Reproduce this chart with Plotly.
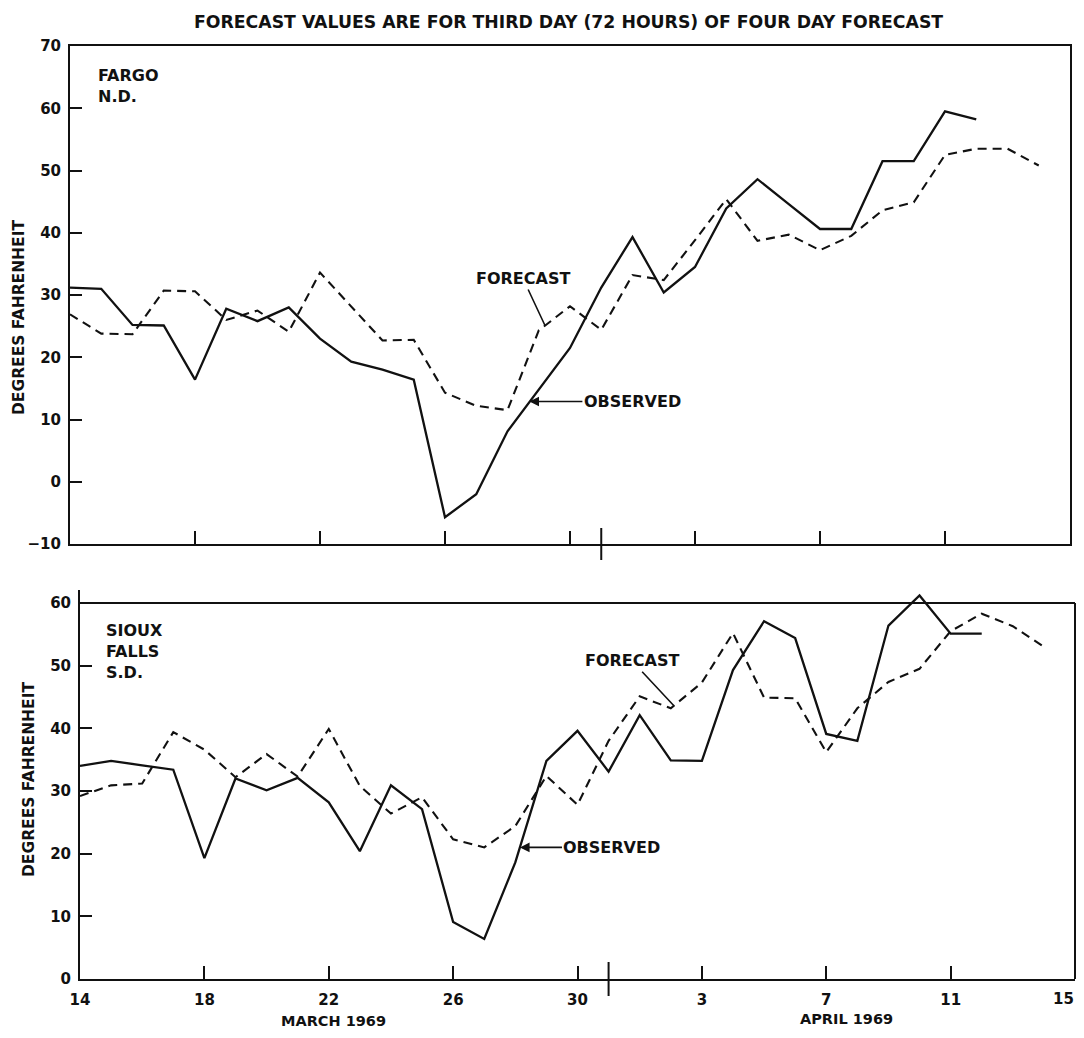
import plotly.graph_objects as go
import pandas as pd

# ---------------- data ----------------
dates = pd.date_range("1969-03-14", "1969-04-15", freq="D")
day_index = list(range(len(dates)))          # 0 = March 14 ... 32 = April 15

tick_idx = [0, 4, 8, 12, 16, 20, 24, 28, 32]
tick_labels = ["14", "18", "22", "26", "30", "3", "7", "11", "15"]
month_break_idx = 17                          # divider between March and April

fargo_observed = [31.2, 31.0, 25.2, 25.1, 16.4, 27.8, 25.8, 28.0, 23.0, 19.3,
                  18.0, 16.4, -5.7, -2.0, 8.1, 14.9, 21.5, 31.2, 39.3, 30.4,
                  34.5, 43.9, 48.6, 44.6, 40.6, 40.6, 51.5, 51.5, 59.5, 58.2,
                  None, None, None]
fargo_forecast = [26.9, 23.8, 23.7, 30.7, 30.6, 26.0, 27.5, 24.1, 33.6, 28.2,
                  22.7, 22.8, 14.3, 12.2, 11.5, 24.3, 28.2, 24.4, 33.2, 32.4,
                  38.8, 45.4, 38.7, 39.7, 37.2, 39.5, 43.6, 44.9, 52.5, 53.5,
                  53.5, 50.8, None]

sioux_observed = [34.0, 34.8, 34.1, 33.4, 19.3, 32.0, 30.1, 32.1, 28.2, 20.4,
                  30.9, 27.1, 9.1, 6.4, 18.6, 34.8, 39.6, 33.1, 42.1, 34.9,
                  34.8, 49.3, 57.1, 54.4, 39.1, 38.0, 56.4, 61.2, 55.1, 55.1,
                  None, None, None]
sioux_forecast = [29.2, 30.9, 31.2, 39.4, 36.6, 32.2, 35.9, 32.3, 39.9, 30.8,
                  26.4, 29.0, 22.3, 21.0, 24.4, 32.4, 27.8, 38.0, 45.1, 43.2,
                  47.3, 55.2, 44.9, 44.8, 36.2, 43.2, 47.4, 49.5, 55.5, 58.3,
                  56.3, 53.0, None]

# ---------------- layout geometry ----------------
PAGE_W, PAGE_H = 1084, 1038
BODY = 8                                   # default page margin around the plot div
W, H = PAGE_W - 2 * BODY, PAGE_H - 2 * BODY
FONT = "DejaVu Sans"
BLACK = "#111111"

def px_x(x):
    return (x - BODY) / W

def px_y(y):
    return 1 - (y - BODY) / H

top_x = [px_x(70), px_x(1070)]
top_y = [px_y(544), px_y(46)]
bot_x = [px_x(80), px_x(1075)]
bot_frame_top_px = 603
bot_zero_px = 979
bot_range = [0, 62]
px_per_deg = (bot_zero_px - bot_frame_top_px) / 60.0
bot_top_px = bot_zero_px - px_per_deg * bot_range[1]
bot_y = [px_y(bot_zero_px), px_y(bot_top_px)]
bot_frame_top = px_y(bot_frame_top_px)

fig = go.Figure()

solid = dict(color=BLACK, width=2.3)
dashed = dict(color=BLACK, width=2.1, dash="9px,6px")

fig.add_trace(go.Scatter(x=day_index, y=fargo_observed, mode="lines", line=solid,
                         xaxis="x", yaxis="y", showlegend=False, connectgaps=False))
fig.add_trace(go.Scatter(x=day_index, y=fargo_forecast, mode="lines", line=dashed,
                         xaxis="x", yaxis="y", showlegend=False, connectgaps=False))
fig.add_trace(go.Scatter(x=day_index, y=sioux_observed, mode="lines", line=solid,
                         xaxis="x2", yaxis="y2", showlegend=False, connectgaps=False))
fig.add_trace(go.Scatter(x=day_index, y=sioux_forecast, mode="lines", line=dashed,
                         xaxis="x2", yaxis="y2", showlegend=False, connectgaps=False))

tickfont = dict(family=FONT, size=15, color=BLACK, weight="bold")

# last tick label ("15") sits at the page edge; drawn right-aligned as an annotation
axis_ticktext = tick_labels[:-1] + [""]

fig.update_layout(
    width=W, height=H, autosize=False,
    margin=dict(l=0, r=0, t=0, b=0, pad=0, autoexpand=False),
    paper_bgcolor="white", plot_bgcolor="white",
    xaxis=dict(domain=top_x, anchor="y", range=[0, 32], showgrid=False, zeroline=False,
               showline=True, mirror=True, linecolor=BLACK, linewidth=2, automargin=False,
               tickmode="array", tickvals=tick_idx[1:-1], ticks="inside", ticklen=13,
               tickwidth=2, tickcolor=BLACK, showticklabels=False),
    yaxis=dict(domain=top_y, anchor="x", range=[-10, 70], showgrid=False, zeroline=False,
               showline=True, mirror=True, linecolor=BLACK, linewidth=2, automargin=False,
               tickmode="array", tickvals=list(range(-10, 71, 10)),
               ticks="inside", ticklen=12, tickwidth=2, tickcolor=BLACK,
               tickfont=tickfont, ticklabelstandoff=4),
    xaxis2=dict(domain=bot_x, anchor="y2", range=[0, 32], showgrid=False, zeroline=False,
                showline=True, mirror=False, linecolor=BLACK, linewidth=2, automargin=False,
                tickmode="array", tickvals=tick_idx, ticktext=axis_ticktext,
                ticks="inside", ticklen=13, tickwidth=2, tickcolor=BLACK,
                tickfont=tickfont, ticklabelstandoff=6),
    yaxis2=dict(domain=bot_y, anchor="x2", range=bot_range, showgrid=False, zeroline=False,
                showline=True, mirror=False, linecolor=BLACK, linewidth=2, automargin=False,
                tickmode="array", tickvals=list(range(0, 61, 10)),
                ticks="inside", ticklen=12, tickwidth=2, tickcolor=BLACK,
                tickfont=tickfont, ticklabelstandoff=4),
)

# frame (top + right) for lower panel, which lets the 61 F peak poke above the frame
fig.add_shape(type="line", xref="paper", yref="paper", x0=bot_x[0], x1=bot_x[1],
              y0=bot_frame_top, y1=bot_frame_top, line=dict(color=BLACK, width=2))
fig.add_shape(type="line", xref="paper", yref="paper", x0=bot_x[1], x1=bot_x[1],
              y0=bot_y[0], y1=bot_frame_top, line=dict(color=BLACK, width=2))

# month divider marks
fig.add_shape(type="line", xref="x", yref="paper", x0=month_break_idx, x1=month_break_idx,
              y0=top_y[0] - 16 / H, y1=top_y[0] + 16 / H, line=dict(color=BLACK, width=2))
fig.add_shape(type="line", xref="x2", yref="paper", x0=month_break_idx, x1=month_break_idx,
              y0=bot_y[0] - 17 / H, y1=bot_y[0] + 17 / H, line=dict(color=BLACK, width=2))

lab = dict(family=FONT, size=16, color=BLACK, weight="bold")

def px_ann(text, x, y, **kw):
    fig.add_annotation(text=text, xref="paper", yref="paper", x=px_x(x), y=px_y(y),
                       showarrow=False, font=kw.pop("font", lab),
                       xanchor=kw.pop("xanchor", "center"), yanchor=kw.pop("yanchor", "middle"), **kw)

px_ann("FORECAST VALUES ARE FOR THIRD DAY (72 HOURS) OF FOUR DAY FORECAST", 568, 22,
       font=dict(family=FONT, size=17.3, color=BLACK, weight="bold"))
px_ann("FARGO<br>N.D.", 96, 64, xanchor="left", yanchor="top", align="left")
px_ann("SIOUX<br>FALLS<br>S.D.", 104, 619, xanchor="left", yanchor="top", align="left")
ytf = dict(family=FONT, size=15.5, color=BLACK, weight="bold")
px_ann("DEGREES FAHRENHEIT", 19, 318, textangle=-90, font=ytf)
px_ann("DEGREES FAHRENHEIT", 29, 780, textangle=-90, font=ytf)
mfont = dict(family=FONT, size=14.5, color=BLACK, weight="bold")
px_ann("MARCH 1969", 333, 1021, font=mfont)
px_ann("APRIL 1969", 846, 1019, font=mfont)
fig.add_annotation(text=tick_labels[-1], xref="paper", yref="paper", x=1.0, y=px_y(999),
                   xanchor="right", yanchor="middle", showarrow=False, font=tickfont,
                   borderpad=0, xshift=-1)

def line_ann(text, xr, yr, x, y, ax, ay, head):
    fig.add_annotation(text=text, xref=xr, yref=yr, x=x, y=y, ax=ax, ay=ay,
                       showarrow=True, arrowhead=head, arrowsize=1.2, arrowwidth=1.6,
                       arrowcolor=BLACK, font=lab, standoff=0)

line_ann("FORECAST", "x", "y", 15.2, 25.1, -22, -47, 0)
line_ann("OBSERVED", "x", "y", 14.7, 12.9, 103, 0, 2)
line_ann("FORECAST", "x2", "y2", 19.1, 43.6, -42, -45, 0)
line_ann("OBSERVED", "x2", "y2", 14.15, 21.0, 92, 0, 2)

fig.write_html("out.html")
